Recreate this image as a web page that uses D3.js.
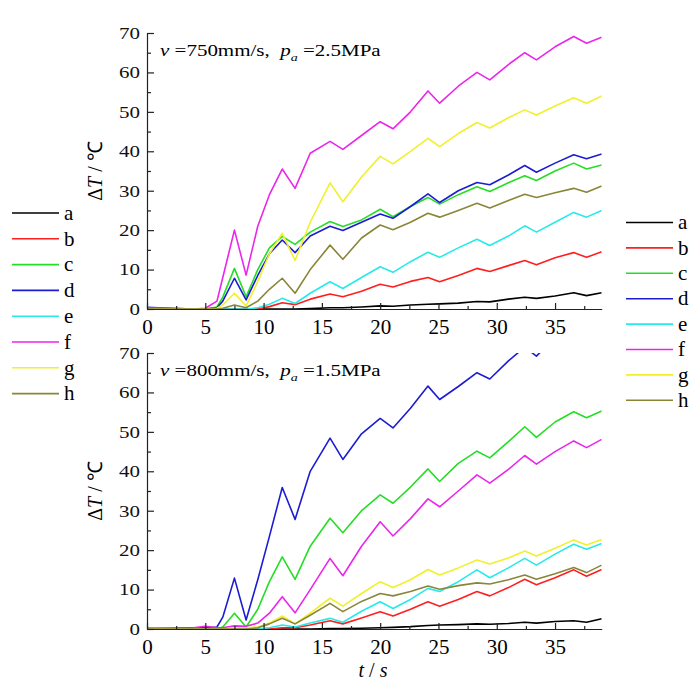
<!DOCTYPE html>
<html>
<head>
<meta charset="utf-8">
<style>
  body { margin: 0; background: #fff; }
  svg { display: block; font-family: "Liberation Serif", "Times New Roman", serif; }
  .axis path, .axis line { stroke: #222; stroke-width: 1.2; }
</style>
</head>
<body>
<svg id="chart" width="699" height="691"></svg>
<script src="https://cdn.jsdelivr.net/npm/d3@7/dist/d3.min.js"></script>
<script>
// sample times (s)
const seconds = [0, 2, 4, 5, 6, 6.5, 7.5, 8.5, 9.5, 10.5, 11.6, 12.7, 14, 15.7, 16.8, 18.4, 20, 21.1, 22.6, 24.1, 25.1, 26.7, 28.3, 29.4, 31, 32.4, 33.4, 35, 36.6, 37.7, 39];
const names = ["a", "b", "c", "d", "e", "f", "g", "h"];
const colors = ["#000000", "#ff1f1f", "#26dd26", "#1c1cd2", "#26eaea", "#ea26ea", "#f0f02c", "#8a8638"];

// upper plot: v = 750mm/s, pa = 2.5MPa
const upA = [0, 0, 0, 0, 0, 0, 0, 0, 0, 0, 0, 0, 0.1, 0.3, 0.3, 0.5, 0.8, 0.7, 1, 1.2, 1.3, 1.5, 1.9, 1.8, 2.5, 3, 2.7, 3.3, 4.1, 3.4, 4.1];
const upB = [0, 0, 0, 0, 0, 0, 0, 0, 0, 0.6, 1.6, 1.1, 2.5, 3.8, 3.1, 4.5, 6.3, 5.6, 7, 8, 6.9, 8.5, 10.3, 9.5, 11, 12.3, 11.2, 13, 14.3, 13.1, 14.5];
const upC = [0, 0, 0, 0, 0.5, 3, 10.3, 3.1, 10, 15.5, 18.4, 16.4, 19.5, 22.2, 20.9, 22.6, 25.3, 23.4, 26, 28.3, 26.6, 29, 31, 29.8, 32, 33.8, 32.6, 35, 37, 35.5, 36.5];
const upD = [0.4, 0.2, 0, 0, 0.3, 2, 7.8, 2.3, 8.5, 14, 17.5, 14.3, 18.5, 21, 19.9, 22, 24.1, 23, 26, 29.2, 27, 30, 32.1, 31.5, 34, 36.4, 34.7, 37, 39.1, 38.1, 39.3];
const upE = [0, 0, 0, 0, 0, 0, 0, 0, 0.3, 1.2, 2.7, 1.4, 4, 6.9, 5.2, 8, 10.7, 9.3, 12, 14.4, 13.1, 15.5, 17.7, 16.1, 18.5, 21.1, 19.5, 22, 24.5, 23.3, 25];
const upF = [0.3, 0.2, 0, 0.2, 2, 8, 20, 8.6, 21, 29, 35.5, 30.6, 39.5, 42.5, 40.5, 44, 47.5, 45.7, 50, 55.3, 52.2, 56.5, 60, 58.1, 62, 65, 63.2, 66.5, 69.1, 67.4, 68.9];
const upG = [0, 0, 0, 0, 0.2, 1, 4, 0.8, 7, 14, 19.2, 12.3, 22, 32, 27.2, 33.5, 38.7, 36.8, 40, 43.3, 41.2, 44.5, 47.3, 45.9, 48.5, 50.5, 49.2, 51.5, 53.6, 52.2, 54];
const upH = [0, 0, 0, 0, 0, 0.2, 1, 0.3, 2, 5, 7.8, 4, 10, 16.2, 12.6, 18, 21.3, 20.1, 22, 24.3, 23.3, 25, 26.8, 25.6, 27.5, 29.1, 28.3, 29.5, 30.6, 29.6, 31.2];

// lower plot: v = 800mm/s, pa = 1.5MPa
const lowA = [0, 0, 0, 0, 0, 0, 0, 0, 0, 0, 0, 0, 0, 0.1, 0.1, 0.2, 0.3, 0.4, 0.6, 0.9, 1, 1.1, 1.3, 1.2, 1.4, 1.7, 1.5, 1.9, 2.1, 1.7, 2.6];
const lowB = [0, 0, 0, 0, 0, 0, 0, 0, 0, 0, 0.3, 0.3, 1, 2.1, 1.3, 2.8, 4.4, 3.3, 5, 6.9, 5.8, 7.5, 9.5, 8.4, 10.5, 12.6, 11.2, 13, 15, 13.4, 15.1];
const lowC = [0, 0, 0, 0, 0, 0.5, 4, 0.5, 5, 12, 18.3, 12.6, 21, 28.1, 24.4, 30, 34, 31.9, 36, 40.6, 37.4, 42, 45.1, 43.4, 47.5, 51.3, 48.6, 52.5, 55.1, 53.6, 55.3];
const lowD = [0.2, 0.2, 0.3, 0.3, 0.5, 3, 12.9, 2.3, 12.5, 23.5, 35.9, 27.8, 40, 48.4, 43, 49.5, 53.4, 51, 56, 61.6, 58.2, 61.5, 65, 63.4, 68, 71.5, 69.2, 74, 76, 74.5, 76];
const lowE = [0, 0, 0, 0, 0, 0, 0, 0, 0, 0.3, 1, 0.5, 1.5, 2.7, 1.7, 4.5, 6.9, 5.2, 7.5, 10.3, 9.5, 12, 15, 13, 15.5, 17.9, 16.2, 19, 21.5, 20.2, 21.7];
const lowF = [0, 0.2, 0.3, 0.7, 0.3, 0.3, 0.8, 0.7, 1.5, 4, 8.2, 4.1, 10, 17.9, 13.5, 21, 27.2, 23.6, 28, 33, 31, 35, 39.1, 37, 40.5, 44, 41.8, 45, 47.7, 46, 48.1];
const lowG = [0, 0, 0, 0, 0, 0, 0.3, 0.3, 0.5, 1.5, 3.3, 1.3, 4, 7.8, 5.8, 9, 12, 10.5, 12.5, 15.1, 13.7, 15.5, 17.5, 16.5, 18, 19.8, 18.5, 20.5, 22.6, 21.3, 22.7];
const lowH = [0, 0, 0, 0, 0, 0, 0, 0, 0.3, 1.3, 2.7, 1.3, 3.5, 6.5, 4.4, 7, 9, 8.4, 9.5, 10.9, 10.1, 11, 11.7, 11.4, 12.5, 13.7, 12.6, 14, 15.6, 14.3, 16.2];

const xTicks = [0, 5, 10, 15, 20, 25, 30, 35];
const xMinor = [2.5, 7.5, 12.5, 17.5, 22.5, 27.5, 32.5, 37.5];
const yTicks = [0, 10, 20, 30, 40, 50, 60, 70];
const yMinor = [5, 15, 25, 35, 45, 55, 65];

const svg = d3.select("#chart");
const x = d3.scaleLinear().domain([0, 39]).range([147, 601.7]);
const serif = "Liberation Serif";

function panel(id, top, bottom, series, speed, pressure) {
    const y = d3.scaleLinear().domain([0, 70]).range([bottom, top]);
    const g = svg.append("g");

    g.append("clipPath").attr("id", id)
      .append("rect")
        .attr("x", x(0)).attr("y", top)
        .attr("width", x(39) - x(0)).attr("height", bottom - top + 2);

    const line = d3.line().x((d, i) => x(seconds[i])).y(d => y(d));
    g.append("g").attr("clip-path", `url(#${id})`)
      .selectAll("path")
      .data(series)
      .join("path")
        .attr("fill", "none")
        .attr("stroke", (d, i) => colors[i])
        .attr("stroke-width", 1.6)
        .attr("stroke-linejoin", "round")
        .attr("d", line);

    // axes, ticks pointing inward
    g.append("g").attr("class", "axis")
        .attr("transform", `translate(0,${bottom})`)
        .call(d3.axisBottom(x).tickValues(xTicks).tickSizeInner(-6).tickSizeOuter(0).tickPadding(10))
        .attr("font-family", serif).attr("font-size", 21).attr("fill", "#111");
    g.append("g").attr("class", "axis")
        .attr("transform", `translate(0,${bottom})`)
        .call(d3.axisBottom(x).tickValues(xMinor).tickSizeInner(-3).tickSizeOuter(0).tickFormat(""))
        .select(".domain").remove();
    const ya = g.append("g").attr("class", "axis")
        .attr("transform", `translate(${x(0)},0)`)
        .call(d3.axisLeft(y).tickValues(yTicks).tickSizeInner(-7).tickSizeOuter(0).tickPadding(7))
        .attr("font-family", serif).attr("font-size", 21);
    ya.selectAll("text").attr("fill", "#111").attr("transform", "scale(1,0.8)");
    g.append("g").attr("class", "axis")
        .attr("transform", `translate(${x(0)},0)`)
        .call(d3.axisLeft(y).tickValues(yMinor).tickSizeInner(-4).tickSizeOuter(0).tickFormat(""))
        .select(".domain").remove();

    // y title
    const yt = g.append("text")
        .attr("transform", `translate(102,${(top + bottom) / 2}) rotate(-90)`)
        .attr("text-anchor", "middle")
        .attr("font-size", 20);
    yt.append("tspan").text("Δ");
    yt.append("tspan").attr("font-style", "italic").text("T");
    yt.append("tspan").text(" / ℃");

    // test condition
    const note = g.append("text")
        .attr("transform", `translate(160,${top + 23}) scale(1,0.8)`)
        .attr("font-size", 21)
        .style("white-space", "pre");
    note.append("tspan").attr("font-style", "italic").text("v");
    note.append("tspan").text(` =${speed}mm/s,  `);
    note.append("tspan").attr("font-style", "italic").text("p");
    note.append("tspan").attr("font-style", "italic").attr("font-size", 14).attr("dy", 6).text("a");
    note.append("tspan").attr("dy", -6).text(` =${pressure}MPa`);
}

panel("clipTop", 33, 309, [upA, upB, upC, upD, upE, upF, upG, upH], 750, 2.5);
panel("clipLow", 353, 629, [lowA, lowB, lowC, lowD, lowE, lowF, lowG, lowH], 800, 1.5);

// x title
const xt = svg.append("text")
    .attr("x", 373).attr("y", 677)
    .attr("text-anchor", "middle")
    .attr("font-size", 20)
    .style("white-space", "pre");
xt.append("tspan").attr("font-style", "italic").text("t");
xt.append("tspan").text(" / ");
xt.append("tspan").attr("font-style", "italic").text("s");

// legends
function legend(x0, y0, step) {
    const lg = svg.append("g").selectAll("g")
      .data(names)
      .join("g")
        .attr("transform", (d, i) => `translate(${x0},${y0 + i * step})`);
    lg.append("line")
        .attr("x1", 0).attr("x2", 47)
        .attr("stroke", (d, i) => colors[i])
        .attr("stroke-width", 1.6);
    lg.append("text")
        .attr("x", 52).attr("dy", "0.32em")
        .attr("font-size", 21)
        .text(d => d);
}
legend(12, 213, 25.8);
legend(626, 222.5, 25.4);
</script>
</body>
</html>
